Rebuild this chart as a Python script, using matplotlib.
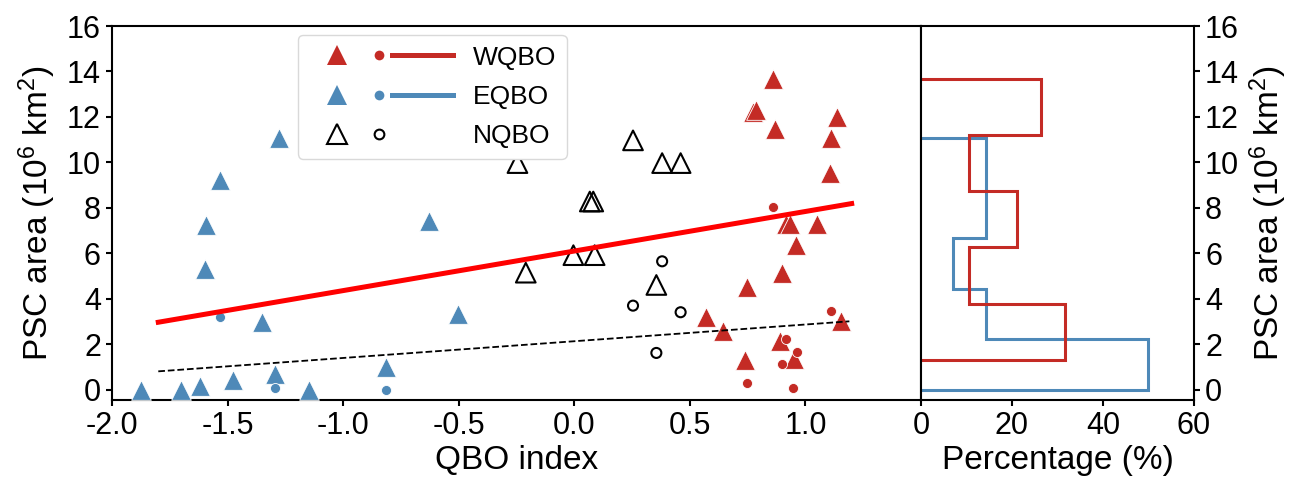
import matplotlib
matplotlib.use("Agg")
import matplotlib.pyplot as plt
import numpy as np
from matplotlib.legend_handler import HandlerBase
from matplotlib.lines import Line2D

plt.rcParams['font.family'] = ['Liberation Sans', 'DejaVu Sans']
plt.rcParams['mathtext.fontset'] = 'custom'
plt.rcParams['mathtext.rm'] = 'Liberation Sans'
plt.rcParams['mathtext.it'] = 'Liberation Sans:italic'
plt.rcParams['axes.unicode_minus'] = False
plt.rcParams['axes.linewidth'] = 1.5

# WQBO
w_tri_x = [0.859, 0.772, 0.788, 0.869, 1.138, 1.112, 1.108, 0.915, 0.935, 1.052,
           0.960, 0.898, 0.747, 0.570, 0.644, 1.155, 0.891, 0.951, 0.738]
w_tri_y = [13.69, 12.20, 12.30, 11.47, 12.01, 11.09, 9.53, 7.31, 7.31, 7.31,
           6.35, 5.12, 4.54, 3.19, 2.60, 3.01, 2.13, 1.34, 1.31]
w_dot_x = [0.859, 1.109, 0.917, 0.963, 0.897, 0.747, 0.948]
w_dot_y = [8.05, 3.45, 2.23, 1.64, 1.13, 0.29, 0.07]

# EQBO
e_tri_x = [-1.876, -1.700, -1.620, -1.477, -1.293, -1.147, -0.816, -1.352,
           -1.600, -1.595, -1.534, -1.279, -0.629, -0.503]
e_tri_y = [0.0, 0.0, 0.15, 0.45, 0.70, 0.0, 1.00, 2.98,
           5.30, 7.24, 9.24, 11.09, 7.44, 3.32]
e_dot_x = [-1.534, -1.293, -0.816]
e_dot_y = [3.19, 0.08, 0.0]

# NQBO
n_tri_x = [-0.246, -0.210, -0.004, 0.088, 0.067, 0.082, 0.254, 0.380, 0.460, 0.355]
n_tri_y = [9.97, 5.15, 5.92, 5.92, 8.28, 8.28, 10.97, 9.97, 9.97, 4.61]
n_dot_x = [0.254, 0.380, 0.460, 0.355]
n_dot_y = [3.70, 5.65, 3.41, 1.62]

# fit lines (end points)
fit_x = [-1.80, 1.20]
fit_y = [2.97, 8.19]
dash_x = [-1.80, 1.19]
dash_y = [0.81, 3.01]

red = '#c42b25'
blue = '#4e89b8'


class GroupKey:
    def __init__(self, color, filled, line):
        self.color = color
        self.filled = filled
        self.line = line


class GroupHandler(HandlerBase):
    def create_artists(self, legend, h, xdescent, ydescent, width, height, fontsize, trans):
        y = height / 2 - ydescent
        x0 = -xdescent
        fc = h.color if h.filled else 'none'
        tri = Line2D([x0 + 0.2 * width], [y], marker='^', ms=14, ls='none',
                     mfc=fc, mec=h.color, mew=1.5 if not h.filled else 0)
        dot = Line2D([x0 + 0.49 * width], [y], marker='o', ms=7, ls='none',
                     mfc=fc, mec=h.color, mew=1.5 if not h.filled else 0)
        arts = [tri, dot]
        if h.line:
            arts.append(Line2D([x0 + 0.58 * width, x0 + width], [y, y], color=h.color, lw=3.6))
        for a in arts:
            a.set_transform(trans)
        return arts


fig = plt.figure(figsize=(12.94, 4.78), dpi=100)
gs = fig.add_gridspec(1, 2, width_ratios=[809, 273], left=0.0866, right=0.9227,
                      bottom=0.1632, top=0.9456, wspace=0)
ax = fig.add_subplot(gs[0])
ax2 = fig.add_subplot(gs[1])

ax.scatter(e_tri_x, e_tri_y, marker='^', s=200, color=blue, edgecolor='white', linewidth=0.6, zorder=3)
ax.scatter(e_dot_x, e_dot_y, marker='o', s=52, color=blue, edgecolor='white', linewidth=0.6, zorder=3)
ax.scatter(n_tri_x, n_tri_y, marker='^', s=200, facecolor='none', edgecolor='black', linewidth=1.5, zorder=3)
ax.scatter(n_dot_x, n_dot_y, marker='o', s=52, facecolor='none', edgecolor='black', linewidth=1.5, zorder=3)
ax.scatter(w_tri_x, w_tri_y, marker='^', s=200, color=red, edgecolor='white', linewidth=0.6, zorder=3)
ax.scatter(w_dot_x, w_dot_y, marker='o', s=52, color=red, edgecolor='white', linewidth=0.6, zorder=3)

ax.plot(fit_x, fit_y, color='#ff0000', lw=3.6, zorder=4)
ax.plot(dash_x, dash_y, color='black', ls='--', lw=1.3, zorder=4)

ax.set_xlim(-2.0, 1.5)
ax.set_ylim(-0.45, 16)
ax.set_xticks(np.arange(-2.0, 1.01, 0.5))
ax.set_xticklabels([f'{v:.1f}' for v in np.arange(-2.0, 1.01, 0.5)])
ax.set_yticks(np.arange(0, 17, 2))
ax.set_xlabel('QBO index', fontsize=24, labelpad=3)
ax.set_ylabel('PSC area (10$^6$ km$^2$)', fontsize=24, labelpad=6)
ax.tick_params(labelsize=22, width=1.5, length=4.5, direction='out')

handles = [GroupKey(red, True, True), GroupKey(blue, True, True), GroupKey('black', False, False)]
leg = ax.legend(handles, ['WQBO', 'EQBO', 'NQBO'], handler_map={GroupKey: GroupHandler()},
                loc='upper left', bbox_to_anchor=(0.23, 0.976), borderaxespad=0,
                fontsize=19, handlelength=5.46, handletextpad=0.76, labelspacing=0.58,
                framealpha=1, edgecolor='0.85')

# histograms of triangle values
for vals, col in [(e_tri_y, blue), (w_tri_y, red)]:
    vals = np.array(vals)
    ax2.hist(vals, bins=5, weights=np.full(len(vals), 100.0 / len(vals)),
             histtype='step', orientation='horizontal', color=col, lw=2.2)

ax2.set_xlim(0, 60)
ax2.set_ylim(-0.45, 16)
ax2.set_xticks([0, 20, 40, 60])
ax2.set_yticks(np.arange(0, 17, 2))
ax2.yaxis.tick_right()
ax2.yaxis.set_label_position('right')
ax2.set_xlabel('Percentage (%)', fontsize=24, labelpad=3)
ax2.set_ylabel('PSC area (10$^6$ km$^2$)', fontsize=24, labelpad=6)
ax2.tick_params(labelsize=22, width=1.5, length=4.5, direction='out')

fig.savefig('out.png', dpi=100)
